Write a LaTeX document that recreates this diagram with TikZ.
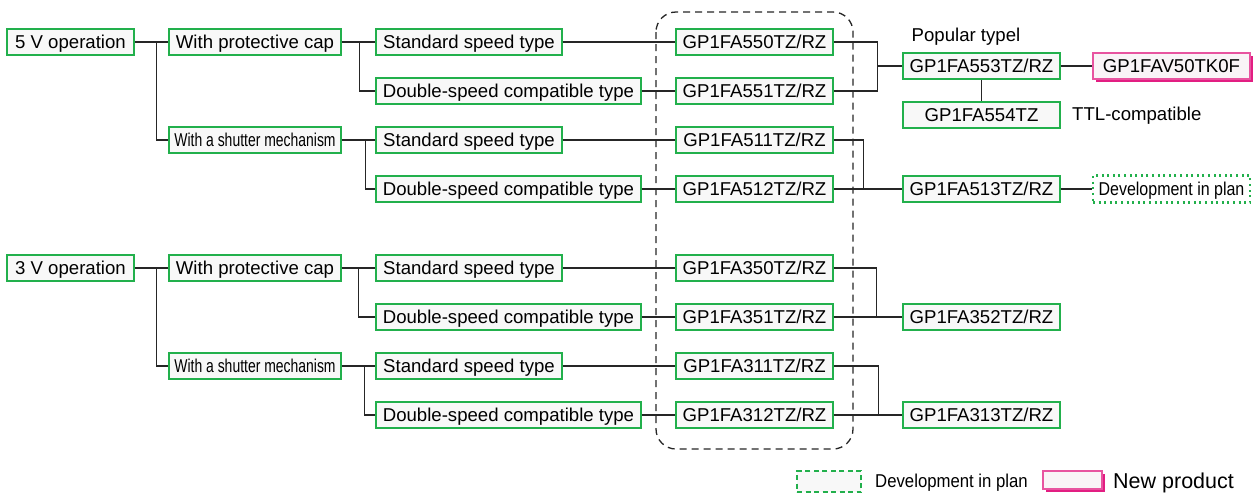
\documentclass[tikz,border=0pt]{standalone}
\usepackage{fontspec}
\setmainfont{Liberation Sans}
\usetikzlibrary{shadows}
\definecolor{partgreen}{RGB}{34,176,76}
\definecolor{partfill}{RGB}{248,248,248}
\definecolor{newpink}{RGB}{226,30,130}
\definecolor{newline}{RGB}{232,84,160}
\definecolor{newfill}{RGB}{249,244,247}
\tikzset{
  part/.style={draw=partgreen, fill=partfill, line width=1.3pt, minimum height=26pt, inner sep=0pt,
    text height=13.3pt, text depth=0pt},
  newpart/.style={draw=newline, fill=newfill, line width=1.1pt, minimum height=26pt, inner sep=0pt,
    text height=13.3pt, text depth=0pt,
    drop shadow={shadow xshift=3pt, shadow yshift=-3pt, fill=newpink, opacity=1}},
  plan/.style={draw=partgreen, fill=white, line width=2.2pt, dash pattern=on 2pt off 3.6pt, minimum height=27pt, inner sep=0pt,
    text height=13.3pt, text depth=0pt},
  link/.style={draw=black!85, line width=1.3pt}
}
\newcommand{\thin}[2]{\scalebox{#1}[1]{#2}}

\begin{document}
\begin{tikzpicture}[x=1pt, y=-1pt, font=\fontsize{18.6}{22}\selectfont]
\useasboundingbox (0,0) rectangle (1257,493);

% dashed group around the GP1FA parts
\draw[black!85, line width=1.3pt, dash pattern=on 7pt off 5pt, rounded corners=20pt] (656,12) rectangle (853,449);

% 5 V branch
\node[part, minimum width=127] (v5) at (70.5,42) {5 V operation};
\node[part, minimum width=172] (cap5) at (255,42) {With protective cap};
\node[part, minimum width=172] (sh5) at (255,140) {\thin{0.75}{With a shutter mechanism}};
\node[part, minimum width=186] (std5a) at (469,42) {Standard speed type};
\node[part, minimum width=265] (dbl5a) at (508.5,91) {Double-speed compatible type};
\node[part, minimum width=186] (std5b) at (469,140) {Standard speed type};
\node[part, minimum width=265] (dbl5b) at (508.5,189) {Double-speed compatible type};

\node[part, minimum width=157] (p550) at (754.5,42) {GP1FA550TZ/RZ};
\node[part, minimum width=157] (p551) at (754.5,91) {GP1FA551TZ/RZ};
\node[part, minimum width=157] (p511) at (754.5,140) {GP1FA511TZ/RZ};
\node[part, minimum width=157] (p512) at (754.5,189) {GP1FA512TZ/RZ};

\node (popular) at (966,37) {Popular typel};
\node[part, minimum width=157] (p553) at (981.5,66) {GP1FA553TZ/RZ};
\node[part, minimum width=157] (p554) at (981.5,115) {GP1FA554TZ};
\node[anchor=west, inner sep=0pt] (ttl) at (1072,116) {TTL-compatible};
\node[newpart, minimum width=157] (v50) at (1171.5,66) {GP1FAV50TK0F};
\node[part, minimum width=157] (p513) at (981.5,189) {GP1FA513TZ/RZ};
\node[plan, minimum width=157] (dev) at (1171.5,189) {\thin{0.86}{Development in plan}};

% 3 V branch
\node[part, minimum width=127] (v3) at (70.5,268) {3 V operation};
\node[part, minimum width=172] (cap3) at (255,268) {With protective cap};
\node[part, minimum width=172] (sh3) at (255,366) {\thin{0.75}{With a shutter mechanism}};
\node[part, minimum width=186] (std3a) at (469,268) {Standard speed type};
\node[part, minimum width=265] (dbl3a) at (508.5,317) {Double-speed compatible type};
\node[part, minimum width=186] (std3b) at (469,366) {Standard speed type};
\node[part, minimum width=265] (dbl3b) at (508.5,415) {Double-speed compatible type};

\node[part, minimum width=157] (p350) at (754.5,268) {GP1FA350TZ/RZ};
\node[part, minimum width=157] (p351) at (754.5,317) {GP1FA351TZ/RZ};
\node[part, minimum width=157] (p311) at (754.5,366) {GP1FA311TZ/RZ};
\node[part, minimum width=157] (p312) at (754.5,415) {GP1FA312TZ/RZ};
\node[part, minimum width=157] (p352) at (981.5,317) {GP1FA352TZ/RZ};
\node[part, minimum width=157] (p313) at (981.5,415) {GP1FA313TZ/RZ};

% legend
\node[part, line width=1.1pt, dash pattern=on 5pt off 3.5pt, minimum width=64, minimum height=21] (keyplan) at (829,481.5) {};
\node[anchor=west, inner sep=0pt] (keyplantext) at (875,483) {\thin{0.9}{Development in plan}};
\node[newpart, minimum width=59, minimum height=18] (keynew) at (1072.5,480) {};
\node[anchor=west, inner sep=0pt, font=\fontsize{21.5}{24}\selectfont] (keynewtext) at (1113,483) {New product};

% connectors 5 V
\draw[link] (v5) -- (cap5);
\draw[link] (v5.east) ++(22,0) |- (sh5.west);
\draw[link] (cap5) -- (std5a);
\draw[link] (cap5.east) ++(18,0) |- (dbl5a.west);
\draw[link] (sh5) -- (std5b);
\draw[link] (sh5.east) ++(24,0) |- (dbl5b.west);
\draw[link] (std5a) -- (p550);
\draw[link] (dbl5a) -- (p551);
\draw[link] (std5b) -- (p511);
\draw[link] (dbl5b) -- (p512);
\draw[link] (p550.east) -- ++(44,0) |- (p553.west);
\draw[link] (p551.east) -- ++(44,0) |- (p553.west);
\draw[link] (p553) -- (v50);
\draw[link] (p553) -- (p554);
\draw[link] (p511.east) -- ++(30,0) |- (p513.west);
\draw[link] (p512) -- (p513);
\draw[link] (p513) -- (dev);

% connectors 3 V
\draw[link] (v3) -- (cap3);
\draw[link] (v3.east) ++(22,0) |- (sh3.west);
\draw[link] (cap3) -- (std3a);
\draw[link] (cap3.east) ++(17,0) |- (dbl3a.west);
\draw[link] (sh3) -- (std3b);
\draw[link] (sh3.east) ++(23,0) |- (dbl3b.west);
\draw[link] (std3a) -- (p350);
\draw[link] (dbl3a) -- (p351);
\draw[link] (std3b) -- (p311);
\draw[link] (dbl3b) -- (p312);
\draw[link] (p350.east) -- ++(43,0) |- (p352.west);
\draw[link] (p351) -- (p352);
\draw[link] (p311.east) -- ++(45,0) |- (p313.west);
\draw[link] (p312) -- (p313);
\end{tikzpicture}
\end{document}
